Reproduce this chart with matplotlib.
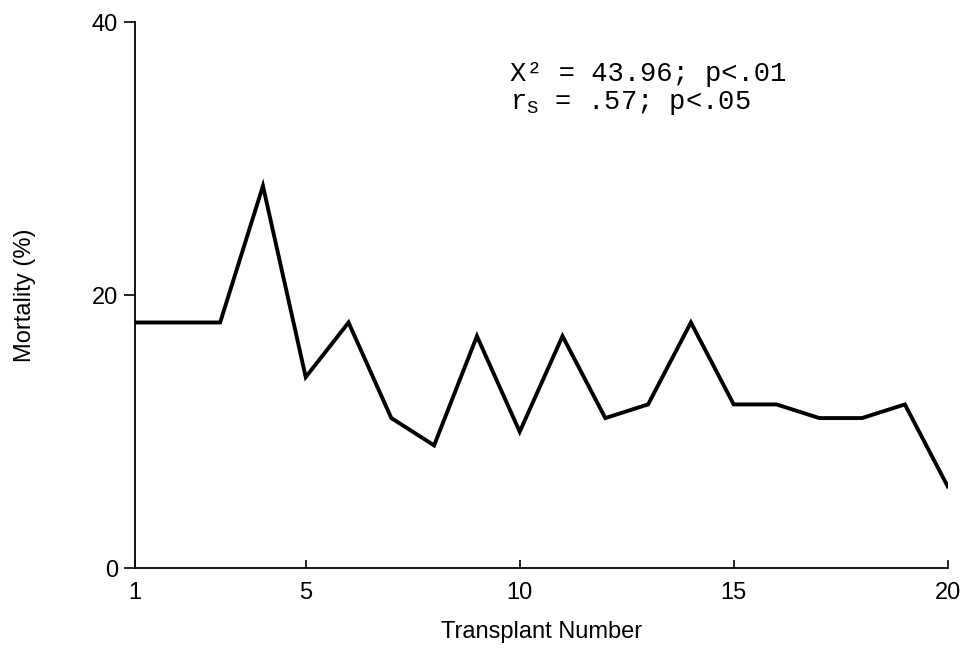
import matplotlib
matplotlib.use("Agg")
import matplotlib.pyplot as plt

transplant = list(range(1, 21))
mortality = [18, 18, 18, 28, 14, 18, 11, 9, 17, 10, 17, 11, 12, 18, 12, 12, 11, 11, 12, 6]
xticks = [1, 5, 10, 15, 20]
yticks = [0, 20, 40]

plt.rcParams['font.family'] = ['Liberation Sans', 'DejaVu Sans']
plt.rcParams['mathtext.fontset'] = 'custom'
plt.rcParams['mathtext.rm'] = 'Liberation Mono'
fig = plt.figure(figsize=(9.68, 6.48), dpi=100)
ax = fig.add_axes([0.139, 0.123, 0.840, 0.843])
ax.plot(transplant, mortality, color='black', lw=2.8, solid_joinstyle='miter')
ax.set_xlim(1, 20)
ax.set_ylim(0, 40)
ax.set_xticks(xticks)
ax.set_yticks(yticks)
for s in ['top', 'right']:
    ax.spines[s].set_visible(False)
for s in ['left', 'bottom']:
    ax.spines[s].set_linewidth(1.3)
ax.tick_params(axis='x', direction='in', length=6, width=1.2, labelsize=17, pad=10)
ax.tick_params(axis='y', direction='out', length=8, width=1.2, labelsize=17, pad=4)
ax.set_xlabel('Transplant Number', fontsize=17, labelpad=12)
ax.set_ylabel('Mortality (%)', fontsize=17, labelpad=40)

mono = 'Liberation Mono'
ax.text(0.462, 0.892, 'X² = 43.96; p<.01', transform=ax.transAxes,
        fontsize=19.5, family=mono, va='baseline', ha='left')
ax.text(0.462, 0.840, r'r$_\mathrm{S}$ = .57; p<.05', transform=ax.transAxes,
        fontsize=19.5, family=mono, va='baseline', ha='left')

fig.savefig('out.png', dpi=100)
